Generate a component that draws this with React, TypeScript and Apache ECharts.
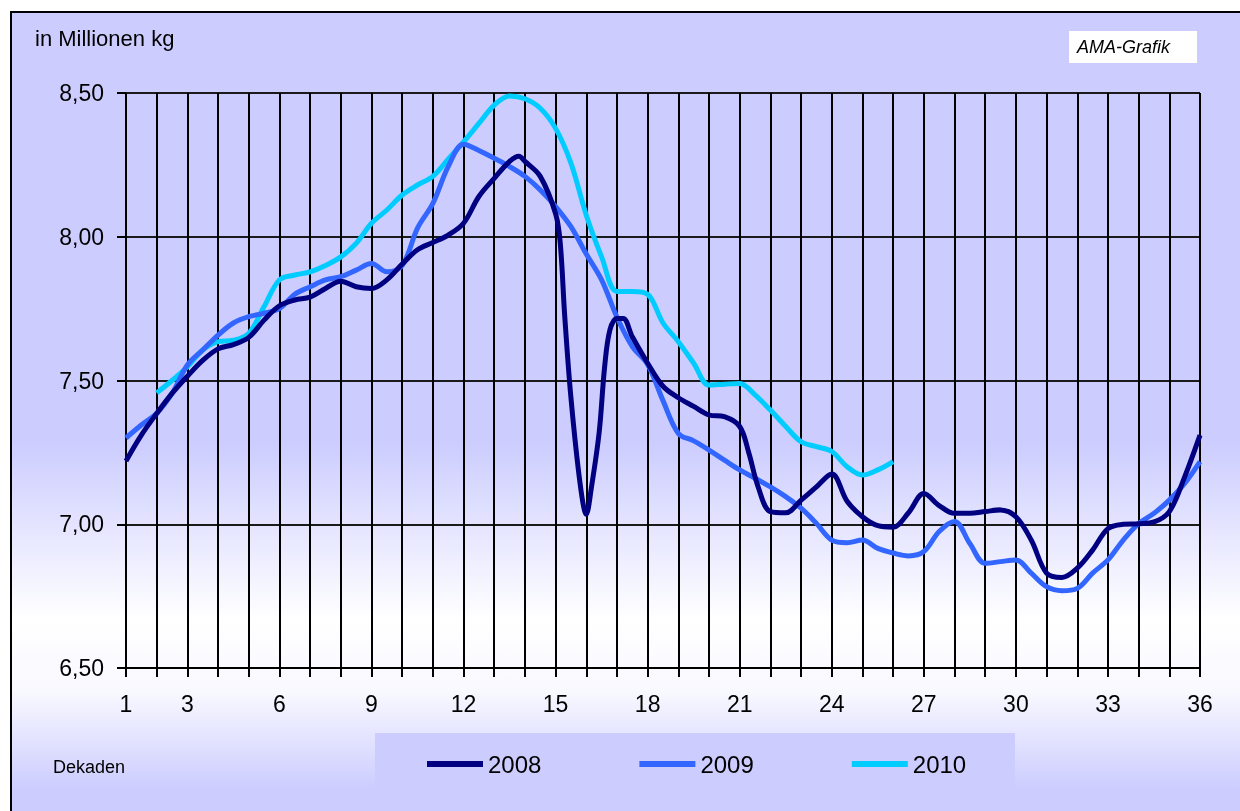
import React, { useEffect, useRef } from 'react';
import * as echarts from 'echarts';

const FONT = "'Liberation Sans', Arial, Helvetica, sans-serif";

const SERIES_NAMES = ['2008', '2009', '2010'];
const SERIES_COLORS = ['#000080', '#3366FF', '#00CCFF'];

const X_LABELS = [1, 3, 6, 9, 12, 15, 18, 21, 24, 27, 30, 33, 36];

const X_2008 = [1, 1.5, 2, 2.5, 3, 3.5, 4, 4.5, 5, 5.5, 6, 6.5, 7, 7.5, 8, 8.5, 9, 9.5, 10, 10.5, 11, 11.5, 12, 12.5, 13, 13.5, 13.8, 14, 14.5, 15, 15.15, 15.3, 15.5, 15.8, 16, 16.17, 16.42, 16.6, 16.77, 17, 17.2, 17.5, 18, 18.5, 19, 19.5, 20, 20.5, 21, 21.3, 21.6, 22, 22.5, 23, 23.5, 24, 24.5, 25, 25.5, 26, 26.5, 27, 27.5, 28, 28.5, 29, 29.5, 30, 30.5, 31, 31.5, 32, 32.5, 33, 33.5, 34, 34.5, 35, 35.5, 36];
const VALUES_2008 = [7.22, 7.31, 7.385, 7.455, 7.515, 7.57, 7.61, 7.625, 7.65, 7.71, 7.76, 7.78, 7.79, 7.82, 7.845, 7.826, 7.82, 7.85, 7.905, 7.955, 7.98, 8.006, 8.047, 8.14, 8.203, 8.262, 8.28, 8.262, 8.21, 8.08, 7.98, 7.72, 7.44, 7.14, 7.035, 7.13, 7.32, 7.55, 7.676, 7.716, 7.716, 7.652, 7.56, 7.48, 7.44, 7.41, 7.38, 7.374, 7.34, 7.247, 7.13, 7.044, 7.04, 7.084, 7.13, 7.175, 7.08, 7.026, 6.995, 6.99, 7.04, 7.107, 7.065, 7.038, 7.038, 7.044, 7.05, 7.026, 6.945, 6.83, 6.815, 6.847, 6.91, 6.985, 7.0, 7.002, 7.008, 7.044, 7.165, 7.31];

const X_2009 = [1, 1.5, 2, 2.5, 3, 3.5, 4, 4.5, 5, 5.5, 6, 6.5, 7, 7.5, 8, 8.5, 9, 9.5, 10, 10.5, 11, 11.5, 12, 12.5, 13, 13.5, 14, 14.5, 15, 15.5, 16, 16.5, 17, 17.5, 18, 18.5, 19, 19.5, 20, 20.5, 21, 21.5, 22, 22.5, 23, 23.5, 24, 24.5, 25, 25.5, 26, 26.5, 27, 27.5, 28, 28.5, 29, 29.5, 30, 30.5, 31, 31.5, 32, 32.5, 33, 33.5, 34, 34.5, 35, 35.5, 36];
const VALUES_2009 = [7.30, 7.345, 7.386, 7.455, 7.554, 7.606, 7.658, 7.70, 7.722, 7.734, 7.75, 7.80, 7.826, 7.85, 7.861, 7.884, 7.907, 7.878, 7.90, 8.03, 8.116, 8.244, 8.322, 8.30, 8.273, 8.244, 8.21, 8.163, 8.105, 8.035, 7.94, 7.85, 7.72, 7.618, 7.556, 7.43, 7.316, 7.29, 7.258, 7.223, 7.189, 7.16, 7.13, 7.096, 7.056, 7.003, 6.945, 6.936, 6.945, 6.916, 6.90, 6.89, 6.905, 6.975, 7.01, 6.933, 6.864, 6.87, 6.876, 6.83, 6.783, 6.769, 6.777, 6.83, 6.876, 6.945, 7.002, 7.038, 7.084, 7.142, 7.218];

const X_2010 = [2, 2.5, 3, 3.5, 4, 4.5, 5, 5.5, 6, 6.5, 7, 7.5, 8, 8.5, 9, 9.5, 10, 10.5, 11, 11.5, 12, 12.5, 13, 13.5, 14, 14.5, 15, 15.5, 16, 16.5, 17, 17.5, 18, 18.5, 19, 19.5, 20, 20.5, 21, 21.5, 22, 22.5, 23, 23.5, 24, 24.5, 25, 25.5, 26];
const VALUES_2010 = [7.457, 7.50, 7.548, 7.606, 7.635, 7.64, 7.664, 7.757, 7.85, 7.867, 7.878, 7.90, 7.93, 7.977, 8.047, 8.093, 8.145, 8.18, 8.21, 8.27, 8.33, 8.394, 8.458, 8.49, 8.48, 8.447, 8.377, 8.256, 8.075, 7.93, 7.81, 7.81, 7.80, 7.70, 7.635, 7.56, 7.484, 7.487, 7.49, 7.45, 7.397, 7.34, 7.287, 7.27, 7.253, 7.20, 7.171, 7.189, 7.218];

const zip = (xs: number[], ys: number[]) => xs.map((x, i) => [x, ys[i]]).filter((p) => p[1] !== undefined);

export default function App() {
  const ref = useRef<HTMLDivElement>(null);

  useEffect(() => {
    if (!ref.current) return;
    const chart = echarts.init(ref.current, null, { renderer: 'svg' });

    const bgGradient = new echarts.graphic.LinearGradient(0, 0, 0, 1, [
      { offset: 0, color: '#CCCCFF' },
      { offset: 0.53, color: '#CCCCFF' },
      { offset: 0.75, color: '#FFFFFF' },
      { offset: 0.84, color: '#F8F8FF' },
      { offset: 0.96, color: '#CCCCFF' },
      { offset: 1, color: '#CCCCFF' },
    ]);

    const datasets = [zip(X_2008, VALUES_2008), zip(X_2009, VALUES_2009), zip(X_2010, VALUES_2010)];

    const option: any = {
      animation: false,
      textStyle: { fontFamily: FONT },
      graphic: [
        {
          type: 'rect',
          z: -100,
          shape: { x: 11, y: 12, width: 1240, height: 810 },
          style: { fill: bgGradient, stroke: '#000', lineWidth: 2 },
        },
        {
          type: 'rect',
          z: -90,
          shape: { x: 375, y: 733, width: 640, height: 59 },
          style: { fill: '#CCCCFF' },
        },
        {
          type: 'rect',
          z: -90,
          shape: { x: 1069, y: 31, width: 128, height: 32 },
          style: { fill: '#FFFFFF' },
        },
        {
          type: 'text',
          x: 1077,
          y: 47,
          style: {
            text: 'AMA-Grafik',
            fontFamily: FONT,
            fontStyle: 'italic',
            fontSize: 18,
            fill: '#000',
            verticalAlign: 'middle',
          },
        },
        {
          type: 'text',
          x: 35,
          y: 38,
          style: {
            text: 'in Millionen kg',
            fontFamily: FONT,
            fontSize: 22,
            fill: '#000',
            verticalAlign: 'middle',
          },
        },
        {
          type: 'text',
          x: 53,
          y: 767,
          style: {
            text: 'Dekaden',
            fontFamily: FONT,
            fontSize: 18,
            fill: '#000',
            verticalAlign: 'middle',
          },
        },
      ],
      legend: {
        data: SERIES_NAMES,
        left: 427,
        top: 752,
        padding: 0,
        itemGap: 98,
        itemWidth: 56,
        itemHeight: 6,
        icon: 'rect',
        textStyle: { fontSize: 24, color: '#000', fontFamily: FONT },
      },
      grid: { left: 126, right: 40, top: 93, bottom: 143, containLabel: false },
      xAxis: {
        type: 'value',
        min: 1,
        max: 36,
        interval: 1,
        axisLine: { show: true, lineStyle: { color: '#000', width: 2 } },
        axisTick: { show: true, length: 9, lineStyle: { color: '#000', width: 2 } },
        splitLine: { show: true, lineStyle: { color: '#000', width: 2 } },
        axisLabel: {
          margin: 24,
          fontSize: 23,
          color: '#000',
          fontFamily: FONT,
          formatter: (v: number) => (X_LABELS.indexOf(v) >= 0 ? String(v) : ''),
        },
      },
      yAxis: {
        type: 'value',
        min: 6.5,
        max: 8.5,
        interval: 0.5,
        axisLine: { show: false },
        axisTick: { show: true, length: 9, lineStyle: { color: '#000', width: 2 } },
        splitLine: { show: true, lineStyle: { color: '#1a1a1a', width: 2 } },
        axisLabel: {
          margin: 22,
          fontSize: 23,
          color: '#000',
          fontFamily: FONT,
          formatter: (v: number) => v.toFixed(2).replace('.', ','),
        },
      },
      series: SERIES_NAMES.map((name, i) => ({
        name,
        type: 'line',
        data: datasets[i],
        smooth: 0.35,
        showSymbol: false,
        symbol: 'none',
        color: SERIES_COLORS[i],
        lineStyle: { color: SERIES_COLORS[i], width: 5 },
        z: 3 + (2 - i),
      })),
    };

    chart.setOption(option);
    return () => chart.dispose();
  }, []);

  return <div ref={ref} style={{ position: 'fixed', left: 0, top: 0, width: 1240, height: 811 }} />;
}
